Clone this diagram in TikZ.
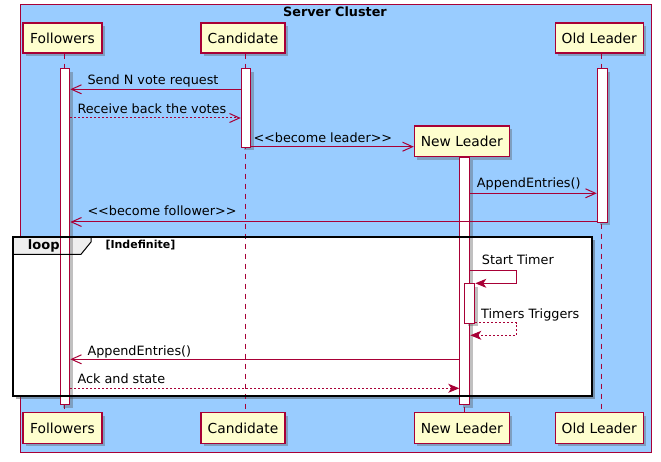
\documentclass[tikz,border=0pt]{standalone}
\usepackage{fontspec}
\setmainfont{DejaVu Sans}
\usetikzlibrary{arrows.meta,shadows}
\definecolor{pbord}{HTML}{A80036}
\definecolor{pfill}{HTML}{FEFECE}
\definecolor{clusterblue}{HTML}{99CCFF}
\definecolor{tabgray}{HTML}{EEEEEE}
\begin{document}
\begin{tikzpicture}[x=1pt,y=-1pt,
  shadowed/.style={drop shadow={shadow xshift=3pt,shadow yshift=-3pt,opacity=0.35,fill=black!70}},
  part/.style={draw=pbord,line width=1.1pt,fill=pfill,inner sep=0pt,font=\fontsize{13.8}{16}\selectfont,shadowed},
  act/.style={draw=pbord,line width=1pt,fill=white,inner sep=0pt,anchor=north west,shadowed},
  lifeline/.style={draw=pbord,line width=1pt,dash pattern=on 5pt off 5pt},
  msg/.style={draw=pbord,line width=1pt},
  dsh/.style={dash pattern=on 2pt off 2pt},
  openhead/.style={-{Straight Barb[length=10pt,width=9pt]}},
  fullhead/.style={-{Stealth[length=11pt,width=9pt,inset=3pt]}},
  lbl/.style={anchor=base west,inner sep=0pt,font=\fontsize{12.8}{15}\selectfont},
]
\useasboundingbox (0,0) rectangle (661,462);

% cluster box
\node[draw=pbord,line width=1pt,fill=clusterblue,anchor=north west,inner sep=0pt,
      minimum width=631.8pt,minimum height=447.5pt] (cluster) at (19.5,4.5) {};
\node[anchor=base,inner sep=0pt,font=\bfseries\fontsize{12.8}{15}\selectfont] (title) at (335,16.7) {Server Cluster};

% loop background
\node[fill=white,anchor=north west,inner sep=0pt,minimum width=579pt,minimum height=158pt,
      drop shadow={shadow xshift=3pt,shadow yshift=-3pt,opacity=0.45,fill=black!70}] (loop) at (12.7,237.3) {};
\fill[tabgray] (12.7,237.3) -- (91,237.3) -- (91,242) -- (81,254.3) -- (12.7,254.3) -- cycle;

% lifeline x positions
\coordinate (xF) at (64.5,0);
\coordinate (xC) at (245.3,0);
\coordinate (xN) at (464.3,0);
\coordinate (xO) at (601.7,0);

% participants
\node[part,minimum width=79pt,minimum height=30pt] (pF) at (62.5,38) {Followers};
\node[part,minimum width=84pt,minimum height=30pt] (pC) at (243,38) {Candidate};
\node[part,minimum width=88pt,minimum height=30pt] (pO) at (599.3,38) {Old Leader};
\node[part,minimum width=95pt,minimum height=30.5pt] (pN) at (461.8,141.3) {New Leader};
\node[part,minimum width=79pt,minimum height=30.5pt] (bF) at (62.5,428) {Followers};
\node[part,minimum width=84pt,minimum height=30.5pt] (bC) at (243,428) {Candidate};
\node[part,minimum width=95pt,minimum height=30.5pt] (bN) at (461.8,428) {New Leader};
\node[part,minimum width=88pt,minimum height=30.5pt] (bO) at (599.3,428) {Old Leader};

% lifelines
\draw[lifeline] (pF.south -| xF) -- (bF.north -| xF);
\draw[lifeline] (pC.south -| xC) -- (bC.north -| xC);
\draw[lifeline] (pN.south -| xN) -- (bN.north -| xN);
\draw[lifeline] (pO.south -| xO) -- (bO.north -| xO);

% activations
\node[act,minimum width=9.6pt,minimum height=335.7pt] (aF) at (59.7,68.3) {};
\node[act,minimum width=9.3pt,minimum height=78.4pt] (aC) at (240.7,68.3) {};
\node[act,minimum width=10pt,minimum height=153.7pt] (aO) at (596.7,68.3) {};
\node[act,minimum width=10pt,minimum height=247pt] (aN) at (459.3,157) {};
\node[act,minimum width=10pt,minimum height=39.4pt] (aN2) at (464.3,283.3) {};

% loop frame border and tab
\draw[black,line width=1.8pt] (loop.north west) rectangle (loop.south east);
\draw[black,line width=1pt] (12.7,254.3) -- (81,254.3) -- (91,242) -- (91,237.3);
\node[anchor=base,inner sep=0pt,font=\bfseries\fontsize{13}{15}\selectfont] (looplbl) at (43.8,250) {loop};
\node[anchor=base west,inner sep=0pt,font=\bfseries\fontsize{11}{13}\selectfont] (loopcond) at (105.3,248.3) {[Indefinite]};

% message levels
\coordinate (y1) at (0,89.3);
\coordinate (y2) at (0,118);
\coordinate (y3) at (0,146.7);
\coordinate (y4) at (0,193.3);
\coordinate (y5) at (0,222);
\coordinate (y6a) at (0,270.7);
\coordinate (y6b) at (0,283.3);
\coordinate (y7a) at (0,322.7);
\coordinate (y7b) at (0,335.3);
\coordinate (y8) at (0,359.3);
\coordinate (y9) at (0,388.3);
\coordinate (xs) at (516.7,0);

% messages
\draw[msg,openhead] (aC.west |- y1) -- (aF.east |- y1);
\node[lbl] (l1) at (87.3,84.3) {Send N vote request};

\draw[msg,dsh,openhead] (aF.east |- y2) -- (aC.west |- y2);
\node[lbl] (l2) at (77.3,114) {Receive back the votes};

\draw[msg,openhead] (aC.east |- y3) -- (pN.west |- y3);
\node[lbl] (l3) at (253.3,142.3) {<\kern0pt<become leader>\kern0pt>};

\draw[msg,openhead] (aN.east |- y4) -- (aO.west |- y4);
\node[lbl] (l4) at (476.7,188) {AppendEntries()};

\draw[msg,openhead] (aO.west |- y5) -- (aF.east |- y5);
\node[lbl] (l5) at (87.3,216) {<\kern0pt<become follower>\kern0pt>};

\draw[msg,fullhead] (aN.east |- y6a) -- (xs |- y6a) -- (xs |- y6b) -- (aN2.east |- y6b);
\node[lbl] (l6) at (481.7,265) {Start Timer};

\draw[msg,dsh,fullhead] (aN2.east |- y7a) -- (xs |- y7a) -- (xs |- y7b) -- (aN.east |- y7b);
\node[lbl] (l7) at (481,318) {Timers Triggers};

\draw[msg,openhead] (aN.west |- y8) -- (aF.east |- y8);
\node[lbl] (l8) at (87.3,355) {AppendEntries()};

\draw[msg,dsh,fullhead] (aF.east |- y9) -- (aN.west |- y9);
\node[lbl] (l9) at (77.3,383.7) {Ack and state};
\end{tikzpicture}
\end{document}
